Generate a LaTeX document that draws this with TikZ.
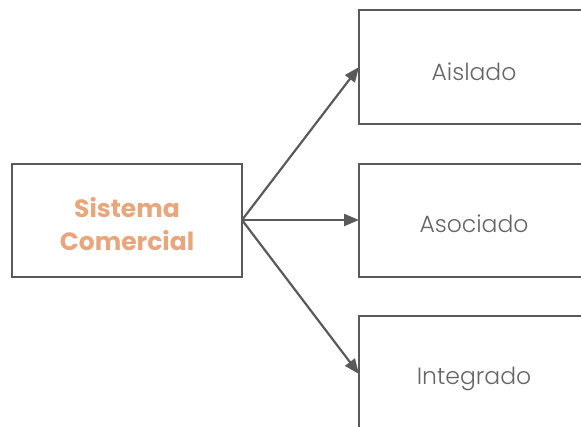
\documentclass[tikz,border=0pt]{standalone}
\usepackage{fontspec}
\setmainfont{Poppins}
\newfontfamily\lightfont{Poppins Light}
\usetikzlibrary{arrows.meta}
\definecolor{edgegrey}{HTML}{5A5A5A}
\definecolor{labelgrey}{HTML}{666666}
\definecolor{peach}{HTML}{E9A67C}
\begin{document}
\begin{tikzpicture}[x=1pt,y=-1pt,
  box/.style={draw=edgegrey,line width=2.6pt,fill=white},
  link/.style={draw=edgegrey,line width=2.2pt,-{Triangle[length=15pt,width=12pt]}},
  lbl/.style={text=labelgrey,font=\lightfont\fontsize{23.5}{28}\selectfont},
  mainlbl/.style={text=peach,font=\bfseries\fontsize{25}{33}\selectfont,align=center}]
\useasboundingbox (0,0) rectangle (581,426);
% left source box
\draw[box] (12,164) rectangle (242,277);
\node[mainlbl] (src) at (127,224.5) {Sistema\\Comercial};
\coordinate (s) at (242,220);
% target boxes, running off the right and bottom edges
\draw[box] (359,10) rectangle (600,124);
\draw[box] (359,164) rectangle (600,277);
\draw[box] (359,316) rectangle (600,450);
\node[lbl] (a) at (474,71.5) {Aislado};
\node[lbl] (b) at (474,224) {Asociado};
\node[lbl] (c) at (474,378.5) {Integrado};
\coordinate (ta) at (359,67);
\coordinate (tb) at (359,220);
\coordinate (tc) at (359,374);
% connectors
\draw[link] (s) -- (ta);
\draw[link] (s) -- (tb);
\draw[link] (s) -- (tc);
\end{tikzpicture}
\end{document}
